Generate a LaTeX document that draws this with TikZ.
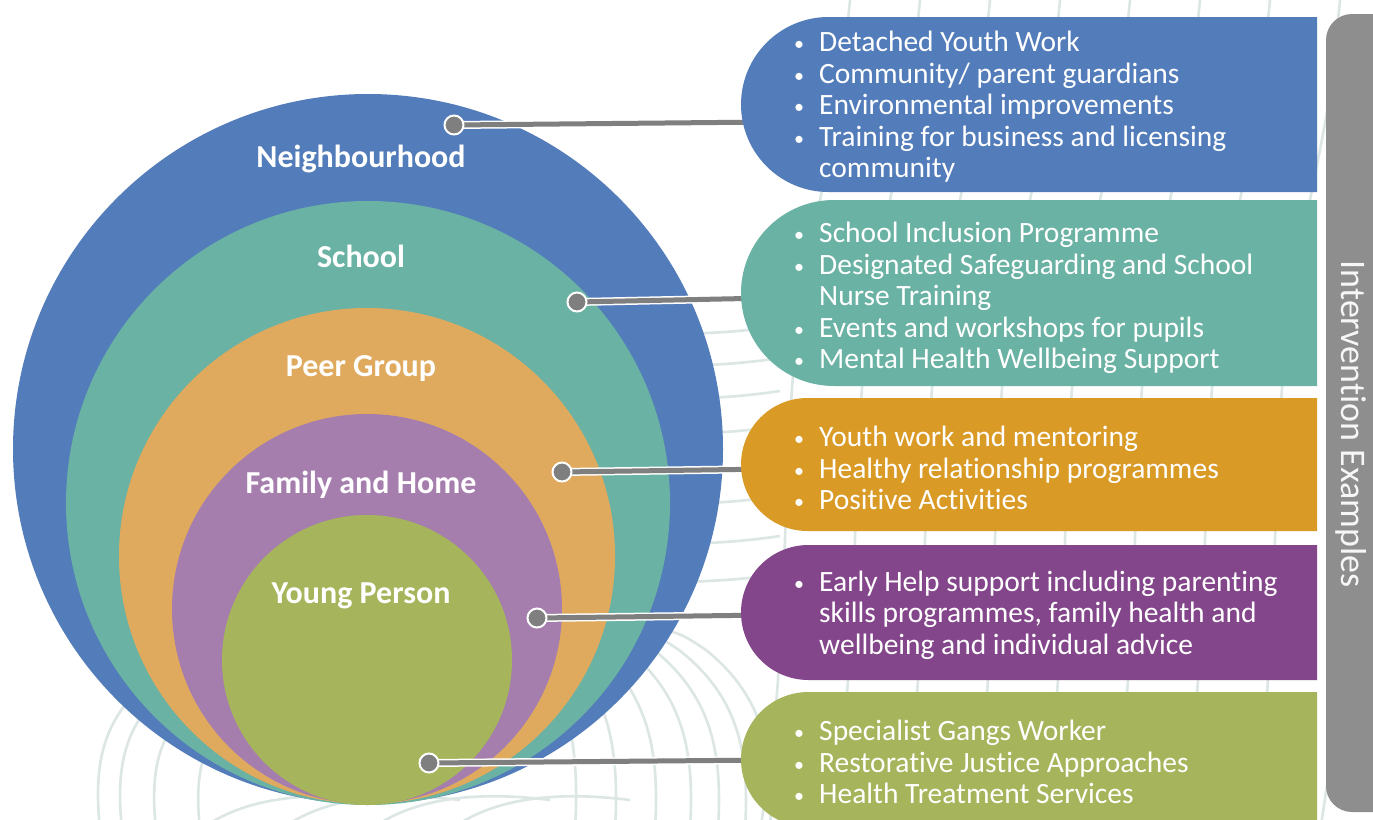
\documentclass[tikz,border=0pt]{standalone}
\usepackage{fontspec}
\setmainfont{Carlito}[Ligatures=NoCommon]
\definecolor{cBlue}{HTML}{537CBA}
\definecolor{cTeal}{HTML}{6AB2A4}
\definecolor{cOrangeC}{HTML}{E0AA5E}
\definecolor{cOrangeB}{HTML}{DA9A26}
\definecolor{cPurpleC}{HTML}{A57EAE}
\definecolor{cPurpleB}{HTML}{84468B}
\definecolor{cGreen}{HTML}{A6B55B}
\definecolor{cBand}{HTML}{8E8E8E}
\definecolor{cLine}{HTML}{7F7F7F}
\definecolor{cContour}{HTML}{DCE6E4}
\newcommand\itm[1]{\makebox[26pt][l]{\hspace*{1pt}\raisebox{1pt}{\fontsize{20}{20}\selectfont •}}#1}
\newcommand\cnt[1]{\hspace*{26pt}#1}
\begin{document}
\begin{tikzpicture}[x=1pt,y=-1pt,
  contour/.style={draw=cContour, line width=2.6pt},
  ring/.style={circle, inner sep=0pt, draw=none},
  lbl/.style={text=white, font=\bfseries\fontsize{32}{32}\selectfont, inner sep=0pt},
  btxt/.style={anchor=west, align=left, text=white, font=\fontsize{29.5}{31.5}\selectfont, inner sep=0pt},
  conn/.style={draw=cLine, line width=5pt, preaction={draw=white, line width=8pt}},
  dot/.style={circle, fill=cLine, draw=white, line width=2pt, minimum size=19pt, inner sep=0pt}]
\useasboundingbox (0,0) rectangle (1373,819);
\fill[white] (0,0) rectangle (1373,819);
% background contour lines
\foreach \x/\b in {575/40,615/50,655/58,690/62,718/64,745/66,770/64}
  \draw[contour] (\x,830) .. controls (\x+4,760) and (\x-2,700) .. (\x-\b,650) .. controls (\x-\b-30,630) .. (\x-\b-90,625);
\foreach \y in {330,362,395,430,500,540,578}
  \draw[contour] (600,\y+12) .. controls (660,\y) and (700,\y+8) .. (780,\y-4);
\foreach \x/\e in {100/125,122/150,156/190,200/240}
  \draw[contour] (\x,830) .. controls (\x-5,780) and (\x-2,740) .. (\e,705);
\foreach \x in {260,340,430,510}
  \draw[contour] (\x-60,830) .. controls (\x-20,800) and (\x+40,790) .. (\x+120,800);
\foreach \x in {760,830,900,970,1040,1110,1180,1250,1320,1390}
  \draw[contour] (\x,830) .. controls (\x+40,600) and (\x+10,400) .. (\x+60,200) .. controls (\x+80,100) .. (\x+90,0);
% circles
\node[ring, fill=cBlue, minimum size=710pt] (nb) at (368,449) {};
\node[ring, fill=cTeal, minimum size=604pt] (sc) at (368,503) {};
\node[ring, fill=cOrangeC, minimum size=496pt] (pg) at (367,556) {};
\node[ring, fill=cPurpleC, minimum size=390pt] (fh) at (367,609) {};
\node[ring, fill=cGreen, minimum size=290pt] (yp) at (367,660) {};
\node[lbl] (lnb) at (361,159) {Neighbourhood};
\node[lbl] (lsc) at (361,256) {School};
\node[lbl] (lpg) at (361,369) {Peer Group};
\node[lbl] (lfh) at (361,485) {Family and Home};
\node[lbl] (lyp) at (361,596) {Young Person};
% connectors
\coordinate (b1w) at (770,122);
\coordinate (b2w) at (770,298);
\coordinate (b3w) at (770,469);
\coordinate (b4w) at (770,615);
\coordinate (b5w) at (770,760);
\coordinate (p1) at (454,125);
\coordinate (p2) at (577,302);
\coordinate (p3) at (562,472);
\coordinate (p4) at (537,618);
\coordinate (p5) at (429,763);
\draw[conn] (p1) -- (b1w);
\draw[conn] (p2) -- (b2w);
\draw[conn] (p3) -- (b3w);
\draw[conn] (p4) -- (b4w);
\draw[conn] (p5) -- (b5w);
\node[dot] (d1) at (p1) {};
\node[dot] (d2) at (p2) {};
\node[dot] (d3) at (p3) {};
\node[dot] (d4) at (p4) {};
\node[dot] (d5) at (p5) {};
% boxes
\fill[cBlue] (1317,17) -- (828.5,17) arc[start angle=270, end angle=90, radius=87.5] -- (1317,192) -- cycle;
\fill[cTeal] (1317,200) -- (834,200) arc[start angle=270, end angle=90, radius=93] -- (1317,386) -- cycle;
\fill[cOrangeB] (1317,398) -- (807.5,398) arc[start angle=270, end angle=90, radius=66.5] -- (1317,531) -- cycle;
\fill[cPurpleB] (1317,545) -- (808.5,545) arc[start angle=270, end angle=90, radius=67.5] -- (1317,680) -- cycle;
\fill[cGreen] (1317,692) -- (808.5,692) arc[start angle=270, end angle=90, radius=67.5] -- (1317,827) -- cycle;
\node[btxt] (t1) at (793,107) {\itm{Detached Youth Work}\\ \itm{Community/ parent guardians}\\ \itm{Environmental improvements}\\ \itm{Training for business and licensing}\\ \cnt{community}};
\node[btxt] (t2) at (793,298) {\itm{School Inclusion Programme}\\ \itm{Designated Safeguarding and School}\\ \cnt{Nurse Training}\\ \itm{Events and workshops for pupils}\\ \itm{Mental Health Wellbeing Support}};
\node[btxt] (t3) at (793,468) {\itm{Youth work and mentoring}\\ \itm{Healthy relationship programmes}\\ \itm{Positive Activities}};
\node[btxt] (t4) at (793,615) {\itm{Early Help support including parenting}\\ \cnt{skills programmes, family health and}\\ \cnt{wellbeing and individual advice}};
\node[btxt] (t5) at (793,762) {\itm{Specialist Gangs Worker}\\ \itm{Restorative Justice Approaches}\\ \itm{Health Treatment Services}};
% side band
\fill[cBand, rounded corners=26pt] (1410,14) -- (1326,14) -- (1326,812) -- (1410,812);
\node[rotate=-90, text=white!93!gray, font=\fontsize{36}{36}\selectfont, inner sep=0pt] (band) at (1351,424) {Intervention Examples};
\end{tikzpicture}
\end{document}
